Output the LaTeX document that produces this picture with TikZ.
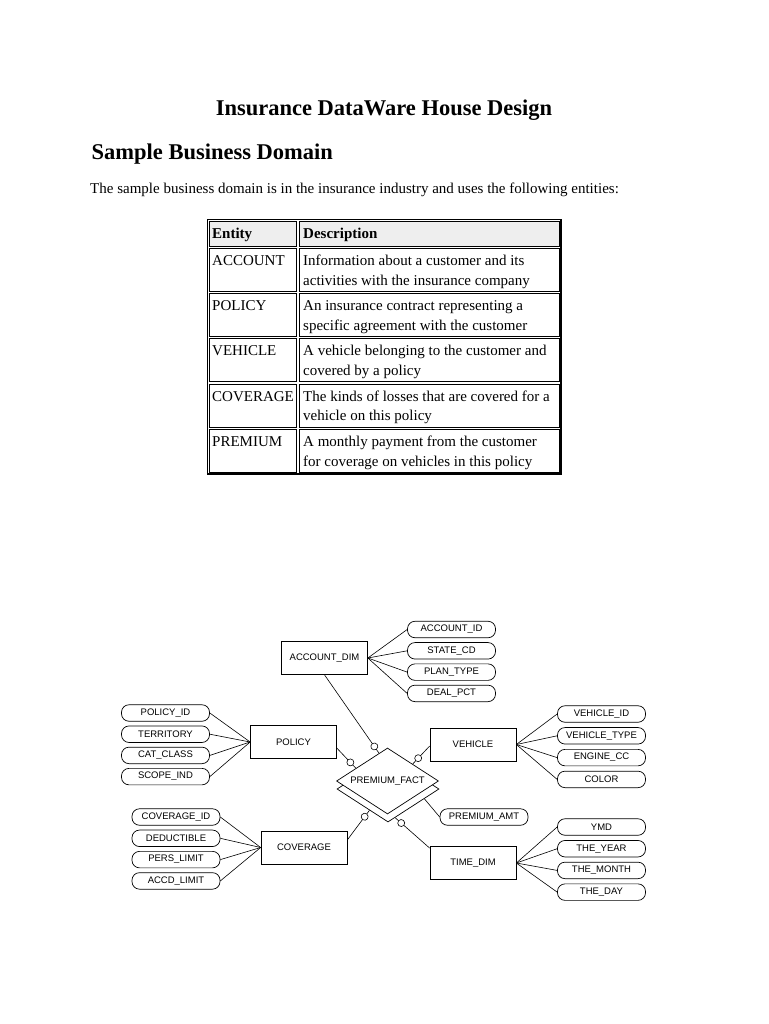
\documentclass[tikz,border=0pt]{standalone}
\usepackage{fontspec}
\setmainfont{Liberation Serif}
\newfontfamily\erfont{Liberation Sans}
\usepackage{tikz}
\usetikzlibrary{shapes.geometric,decorations.markings}
\usepackage{xcolor}
\definecolor{headgray}{HTML}{EEEEEE}

\tikzset{
  entbox/.style={rectangle, draw, fill=white, line width=0.7pt, minimum width=86pt, minimum height=33pt, inner sep=0pt, font={\erfont\fontsize{9.5}{11}\selectfont}},
  attr/.style={rectangle, rounded corners=7.5pt, draw, fill=white, line width=0.7pt, minimum width=88pt, minimum height=16.5pt, inner sep=0pt, font={\erfont\fontsize{9.5}{11}\selectfont}},
  factbox/.style={diamond, aspect=1.55, draw, fill=white, line width=0.7pt, minimum width=102pt, minimum height=66pt, inner sep=0pt, font={\erfont\fontsize{9.5}{11}\selectfont}},
  link/.style={line width=0.6pt},
  zerolink/.style={link, postaction={decorate, decoration={markings, mark=at position -8pt with {\draw[fill=white, line width=0.6pt] (0,0) circle (3.5pt);}}}},
  tabtext/.style={anchor=base west, inner sep=0pt, font={\fontsize{15}{19.5}\selectfont}},
  cell/.style={draw, line width=0.9pt},
}

\begin{document}
\begin{tikzpicture}[x=1pt,y=-1pt]
          % Variables
          \def \xa {207.5}
          \def \xm {298}
          \def \xb {561}
          \def \lsk {19.5}

          % Page
          \useasboundingbox[fill=white] (0,0) rectangle (768,1024);

          % Headings
          \node[anchor=base, inner sep=0pt, font={\fontsize{22.5}{27}\selectfont\bfseries}] (title) at (384,116) {Insurance DataWare House Design};
          \node[anchor=base west, inner sep=0pt, font={\fontsize{22.5}{27}\selectfont\bfseries}] (section) at (91.5,160) {Sample Business Domain};
          \node[tabtext] (intro) at (90,193.5) {The sample business domain is in the insurance industry and uses the following entities:};

          % Table
          \draw[line width=1.4pt] (\xa,219.5) rectangle (\xb,474);
          \draw[cell, fill=headgray] (\xa+1.8,219.5+1.8) rectangle (\xm-1.2,247.5-1.2);
          \draw[cell, fill=headgray] (\xm+1.2,219.5+1.8) rectangle (\xb-1.8,247.5-1.2);
          \node[tabtext, font={\fontsize{15}{19.5}\selectfont\bfseries}] (enthead) at (212,238.5) {Entity};
          \node[tabtext, font={\fontsize{15}{19.5}\selectfont\bfseries}] (deschead) at (303,238.5) {Description};
          \foreach \ya/\yb/\ent/\la/\lb [count=\r] in {
              247.5/292.5/ACCOUNT/Information about a customer and its/activities with the insurance company,
              292.5/337.5/POLICY/An insurance contract representing a/specific agreement with the customer,
              337.5/383/VEHICLE/A vehicle belonging to the customer and/covered by a policy,
              383/428.5/COVERAGE/The kinds of losses that are covered for a/vehicle on this policy,
              428.5/474/PREMIUM/A monthly payment from the customer/for coverage on vehicles in this policy}
          {
            \draw[cell] (\xa+1.8,\ya+1.2) rectangle (\xm-1.2,\yb-1.2);
            \draw[cell] (\xm+1.2,\ya+1.2) rectangle (\xb-1.8,\yb-1.2);
            \node[tabtext] (ent\r) at (212,\ya+18) {\ent};
            \node[tabtext] (desa\r) at (303,\ya+18) {\la};
            \node[tabtext] (desb\r) at (303,\ya+18+\lsk) {\lb};
          }

          % Fact table
          \node[factbox] (factback) at (388,789) {};
          \node[factbox] (fact) at (387.5,781) {PREMIUM\_FACT};

          % Dimensions
          \node[entbox] (acct) at (324.5,658) {ACCOUNT\_DIM};
          \node[entbox] (policy) at (293.5,742) {POLICY};
          \node[entbox] (vehicle) at (473,744.5) {VEHICLE};
          \node[entbox] (cov) at (304,847.5) {COVERAGE};
          \node[entbox] (time) at (473,863) {TIME\_DIM};

          % Attributes
          \foreach \attname [count=\i from 0] in {ACCOUNT\_ID,STATE\_CD,PLAN\_TYPE,DEAL\_PCT}
          {
            \node[attr] (acct\i) at (451.5,629.5+21.3*\i) {\attname};
            \draw[link] (acct.east) -- (acct\i.west);
          }
          \foreach \attname [count=\i from 0] in {POLICY\_ID,TERRITORY,CAT\_CLASS,SCOPE\_IND}
          {
            \node[attr] (pol\i) at (165.5,713+21.2*\i) {\attname};
            \draw[link] (pol\i.east) -- (policy.west);
          }
          \foreach \attname [count=\i from 0] in {VEHICLE\_ID,VEHICLE\_TYPE,ENGINE\_CC,COLOR}
          {
            \node[attr] (veh\i) at (601.5,714+21.8*\i) {\attname};
            \draw[link] (vehicle.east) -- (veh\i.west);
          }
          \foreach \attname [count=\i from 0] in {COVERAGE\_ID,DEDUCTIBLE,PERS\_LIMIT,ACCD\_LIMIT}
          {
            \node[attr] (cov\i) at (176,817+21.3*\i) {\attname};
            \draw[link] (cov\i.east) -- (cov.west);
          }
          \foreach \attname [count=\i from 0] in {YMD,THE\_YEAR,THE\_MONTH,THE\_DAY}
          {
            \node[attr] (tim\i) at (601.5,827+21.7*\i) {\attname};
            \draw[link] (time.east) -- (tim\i.west);
          }
          \node[attr] (pamt) at (484,817) {PREMIUM\_AMT};

          % Relationships
          \draw[zerolink] (acct.south) -- (fact.107);
          \draw[zerolink] (policy.-8) -- (fact.158);
          \draw[zerolink] (vehicle.182) -- (fact.34);
          \draw[zerolink] (cov.10) -- (factback.229);
          \draw[zerolink] (time.161) -- (factback.284);
          \draw[link] (factback.-15) -- (pamt.west);

        \end{tikzpicture}
\end{document}
